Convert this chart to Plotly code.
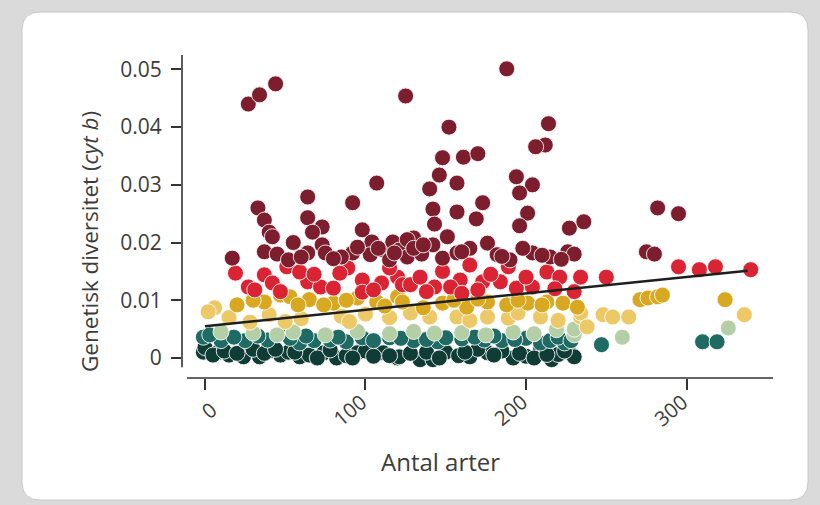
import plotly.graph_objects as go

# ---------------- data (x = Antal arter, y = genetisk diversitet) ----------------
dark_red_x = [27, 34, 44, 125, 188, 152, 214, 212, 206, 148, 161, 170, 146, 157, 140, 194, 204, 196,
              142, 157, 173, 169, 143, 151, 130, 201, 196, 227, 236, 282, 295, 275, 280,
              33, 37, 40, 42, 17, 64, 92, 107, 64, 73, 67, 98, 37, 45, 64, 73, 75, 92, 104, 111,
              117, 121, 103, 126, 142, 148, 157, 176, 182, 126, 204, 226, 52, 85, 55, 115, 135,
              165, 190, 215, 230, 108, 118, 130, 136, 160, 185, 198, 210, 222, 60, 80, 95]
dark_red_y = [0.0440, 0.0456, 0.0475, 0.0454, 0.0501, 0.0400, 0.0406, 0.0369, 0.0366, 0.0347, 0.0348,
              0.0354, 0.0317, 0.0303, 0.0293, 0.0314, 0.0300, 0.0286, 0.0258, 0.0253, 0.0269, 0.0241,
              0.0232, 0.0210, 0.0208, 0.0251, 0.0229, 0.0225, 0.0236, 0.0260, 0.0250, 0.0184, 0.0180,
              0.0260, 0.0239, 0.0218, 0.0210, 0.0173, 0.0279, 0.0269, 0.0303, 0.0243, 0.0227, 0.0218,
              0.0222, 0.0184, 0.0180, 0.0182, 0.0196, 0.0182, 0.0182, 0.0201, 0.0187, 0.0201, 0.0187,
              0.0179, 0.0205, 0.0196, 0.0173, 0.0182, 0.0199, 0.0179, 0.0175, 0.0182, 0.0184, 0.0170,
              0.0175, 0.0200, 0.0170, 0.0180, 0.0190, 0.0170, 0.0175, 0.0180, 0.0190, 0.0182, 0.0190,
              0.0196, 0.0184, 0.0176, 0.0190, 0.0178, 0.0171, 0.0175, 0.0172, 0.0192]

red_x = [19, 37, 51, 27, 31, 42, 64, 72, 80, 89, 98, 98, 110, 120, 123, 84, 59, 115, 128, 143, 159,
         165, 189, 184, 134, 153, 173, 213, 221, 234, 194, 204, 250, 295, 308, 318, 340, 47, 68, 105,
         138, 148, 170, 200, 218, 230, 178, 160]
red_y = [0.0147, 0.0144, 0.0158, 0.0123, 0.0118, 0.0130, 0.0132, 0.0123, 0.0121, 0.0156, 0.0135, 0.0114,
         0.0130, 0.0140, 0.0127, 0.0147, 0.0149, 0.0156, 0.0127, 0.0123, 0.0135, 0.0161, 0.0158, 0.0132,
         0.0140, 0.0123, 0.0132, 0.0149, 0.0140, 0.0140, 0.0121, 0.0123, 0.0140, 0.0158, 0.0153, 0.0158,
         0.0153, 0.0115, 0.0145, 0.0118, 0.0115, 0.0150, 0.0118, 0.0140, 0.0120, 0.0115, 0.0145, 0.0112]

gold_x = [47, 53, 37, 65, 80, 95, 107, 120, 123, 74, 136, 148, 163, 176, 188, 201, 213, 223, 232, 271,
          276, 282, 285, 324, 20, 30, 58, 88, 112, 155, 170, 195, 210]
gold_y = [0.0109, 0.0106, 0.0097, 0.0101, 0.0095, 0.0104, 0.0097, 0.0106, 0.0097, 0.0092, 0.0087, 0.0095,
          0.0088, 0.0097, 0.0092, 0.0095, 0.0097, 0.0095, 0.0088, 0.0101, 0.0104, 0.0106, 0.0109, 0.0101,
          0.0092, 0.0100, 0.0092, 0.0100, 0.0090, 0.0100, 0.0102, 0.0100, 0.0092]

yellow_x = [6, 2, 128, 140, 157, 176, 189, 209, 234, 234, 248, 254, 264, 238, 336, 15, 40, 60, 85, 100,
            115, 195, 220, 165, 28, 50, 90]
yellow_y = [0.0087, 0.0080, 0.0078, 0.0071, 0.0071, 0.0071, 0.0069, 0.0071, 0.0071, 0.0078, 0.0075, 0.0071,
            0.0071, 0.0054, 0.0075, 0.0070, 0.0075, 0.0068, 0.0072, 0.0076, 0.0070, 0.0078, 0.0065, 0.0065,
            0.0062, 0.0063, 0.0063]

lightgreen_x = [192, 219, 260, 326, 143, 10, 30, 55, 75, 95, 115, 130, 160, 175, 205, 230, 45, 230]
lightgreen_y = [0.0045, 0.0049, 0.0036, 0.0052, 0.0043, 0.0045, 0.0043, 0.0045, 0.0040, 0.0046, 0.0042,
                0.0046, 0.0044, 0.0040, 0.0042, 0.0040, 0.0040, 0.0050]

teal_x = [-1, 39, 59, 49, 78, 98, 115, 174, 209, 224, 247, 310, 319, 10, 25, 68, 88, 130, 145, 160, 185,
          200, 215, 3, 150, 18, 33, 53, 63, 83, 105, 122, 138, 168, 180, 193, 220, 228]
teal_y = [0.0036, 0.0031, 0.0026, 0.0043, 0.0031, 0.0035, 0.0035, 0.0031, 0.0026, 0.0026, 0.0023, 0.0028,
          0.0028, 0.0030, 0.0030, 0.0030, 0.0028, 0.0030, 0.0028, 0.0033, 0.0030, 0.0034, 0.0030, 0.0040,
          0.0035, 0.0036, 0.0038, 0.0034, 0.0038, 0.0036, 0.0030, 0.0034, 0.0032, 0.0036, 0.0038, 0.0032,
          0.0036, 0.0030]

darkgreen_x = [-1, 7.5, 24, 34, 47, 59, 74, 82, 95, 111, 120, 121, 134, 142, 165, 176, 192, 209, 216, 227,
               15, 40, 52, 65, 88, 100, 128, 150, 158, 185, 200, 220, 0, 30, 105, 170, 230,
               5, 12, 20, 37, 44, 56, 70, 78, 92, 115, 138, 146, 162, 180, 196, 205, 213, 224]
darkgreen_y = [0.0010, 0.0009, 0.0002, 0.0002, 0.0005, 0.0002, 0.0009, 0.0000, 0.0009, 0.0009, 0.0000,
               0.0002, -0.0003, -0.0003, 0.0002, 0.0009, 0.0000, 0.0014, -0.0003, 0.0009, 0.0005, 0.0012,
               0.0010, 0.0005, 0.0004, 0.0012, 0.0008, 0.0010, 0.0004, 0.0012, 0.0003, 0.0006, 0.0018,
               0.0015, 0.0003, 0.0015, 0.0002, 0.0005, 0.0012, 0.0008, 0.0008, 0.0015, 0.0010, 0.0000,
               0.0014, 0.0000, 0.0004, 0.0010, 0.0000, 0.0010, 0.0005, 0.0008, 0.0000, 0.0006, 0.0012]

# regression line
fit_intercept = 0.0055
fit_slope = 0.0000285
fit_x = [0, 338]

y_tickvals = [0, 0.01, 0.02, 0.03, 0.04, 0.05]
y_ticktext = ["0", "0.01", "0.02", "0.03", "0.04", "0.05"]
x_tickvals = [0, 100, 200, 300]
x_ticktext = ["0", "100", "200", "300"]

x_title = "Antal arter"
y_title = "Genetisk diversitet (<i>cyt b</i>)"

# ---------------- figure ----------------
FONT = "Open Sans"
TXT = "#3c3c3c"
groups = [
    (darkgreen_x, darkgreen_y, "#0f3d36"),
    (teal_x, teal_y, "#1f6b63"),
    (lightgreen_x, lightgreen_y, "#b4cea6"),
    (yellow_x, yellow_y, "#edc866"),
    (gold_x, gold_y, "#d8a920"),
    (red_x, red_y, "#da2433"),
    (dark_red_x, dark_red_y, "#7c1e2d"),
]

fig = go.Figure()
for gx, gy, col in groups:
    fig.add_trace(go.Scatter(
        x=gx, y=gy, mode="markers",
        marker=dict(size=16, color=col, line=dict(color="rgba(255,255,255,0.85)", width=1)),
        showlegend=False, hoverinfo="x+y",
    ))

fig.add_trace(go.Scatter(
    x=fit_x, y=[fit_intercept + fit_slope * v for v in fit_x],
    mode="lines", line=dict(color="#1e1e1e", width=2.5), showlegend=False,
))

L, R, T, B = 182, 45, 55, 127
W, H = 820, 505
pw, ph = W - L - R, H - T - B

def px(xp):
    return (xp - L) / pw

def py(yp):
    return (H - B - yp) / ph

# rounded white card
x0, x1, y0, y1 = px(22), px(808), py(500), py(12)
rx, ry = 18 / pw, 18 / ph
card = (f"M {x0+rx},{y1} L {x1-rx},{y1} Q {x1},{y1} {x1},{y1-ry} "
        f"L {x1},{y0+ry} Q {x1},{y0} {x1-rx},{y0} L {x0+rx},{y0} "
        f"Q {x0},{y0} {x0},{y0+ry} L {x0},{y1-ry} Q {x0},{y1} {x0+rx},{y1} Z")

xr = [-14.3, 355.1]
yr = [-0.00347, 0.0525]

annotations = [
    dict(text=x_title, xref="paper", yref="paper", x=px(440), y=py(462),
         showarrow=False, font=dict(size=24, color=TXT), xanchor="center", yanchor="middle"),
    dict(text=y_title, xref="paper", yref="paper", x=px(89), y=py(242),
         showarrow=False, textangle=-90, font=dict(size=22.5, color=TXT),
         xanchor="center", yanchor="middle"),
]
for v, t in zip(x_tickvals, x_ticktext):
    annotations.append(dict(text=t, xref="x", yref="paper", x=v, y=py(410),
                            xshift=4 - 10 * (len(t) - 1),
                            showarrow=False, textangle=-40, font=dict(size=20.5, color=TXT),
                            xanchor="center", yanchor="middle"))

fig.update_layout(
    width=W, height=H,
    margin=dict(l=L, r=R, t=T, b=B, pad=0),
    paper_bgcolor="#dadada",
    plot_bgcolor="rgba(0,0,0,0)",
    font=dict(family=FONT, color=TXT, size=18),
    shapes=[
        dict(type="path", path=card, xref="paper", yref="paper",
             fillcolor="white", line=dict(color="#c8c8c8", width=1), layer="below"),
        # detached axis lines
        dict(type="line", xref="paper", yref="y", x0=0, x1=0, y0=-0.0016, y1=yr[1],
             line=dict(color="#333333", width=1.6)),
        dict(type="line", xref="x", yref="paper", x0=-11.2, x1=353.9, y0=0, y1=0,
             line=dict(color="#333333", width=1.6)),
    ],
    xaxis=dict(range=xr, showgrid=False, zeroline=False, showline=False,
               tickvals=x_tickvals, ticks="outside", ticklen=11, tickwidth=1.6,
               tickcolor="#333333", showticklabels=False),
    yaxis=dict(range=yr, showgrid=False, zeroline=False, showline=False,
               tickvals=y_tickvals, ticktext=y_ticktext, ticks="outside", ticklen=10,
               tickwidth=1.6, tickcolor="#333333", ticklabelstandoff=5,
               tickfont=dict(size=21, color=TXT)),
    annotations=annotations,
)

fig.write_html(
    "out.html",
    config={"displayModeBar": False},
    post_script="document.body.style.margin='0';document.body.style.background='#dadada';",
)
